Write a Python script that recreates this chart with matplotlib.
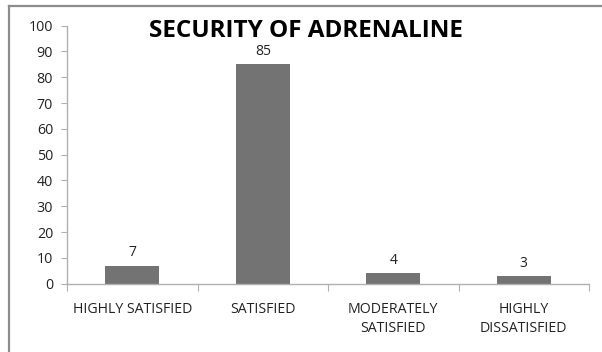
import matplotlib
matplotlib.use("Agg")
import matplotlib.pyplot as plt
from matplotlib.lines import Line2D

categories = ["HIGHLY SATISFIED", "SATISFIED", "MODERATELY\nSATISFIED", "HIGHLY\nDISSATISFIED"]
values = [7, 85, 4, 3]
yticks = [0, 10, 20, 30, 40, 50, 60, 70, 80, 90, 100]
title = "SECURITY OF ADRENALINE"

W, H = 602, 352
fig = plt.figure(figsize=(W / 100, H / 100), dpi=100)
fig.patch.set_facecolor("white")

# chart frame (top and left edges)
fig.add_artist(Line2D([9 / W, 9 / W], [0, 1 - 6 / H], color="#8c8c8c", lw=1.6, transform=fig.transFigure))
fig.add_artist(Line2D([9 / W, 1], [1 - 6 / H, 1 - 6 / H], color="#8c8c8c", lw=1.6, transform=fig.transFigure))

ax = fig.add_axes([67 / W, 1 - 283.6 / H, (589 - 67) / W, (283.6 - 25.7) / H])
x = list(range(len(categories)))
ax.bar(x, values, width=0.41, color="#737373", zorder=2)
ax.set_xlim(-0.5, len(categories) - 0.5)
ax.set_ylim(0, 100)

font = "Open Sans"
for xi, v in zip(x, values):
    ax.text(xi, v + 2, str(v), ha="center", va="bottom", fontsize=10, family=font, color="#222222")

ax.set_yticks(yticks)
ax.set_yticklabels([str(t) for t in yticks], family=font, fontsize=10.3, color="#222222")
ax.set_xticks([i - 0.5 for i in range(len(categories) + 1)], minor=False)
ax.set_xticklabels([""] * (len(categories) + 1))
ax.set_xticks(x, minor=True)
ax.set_xticklabels(categories, minor=True, family=font, fontsize=10.2, color="#222222", linespacing=1.35)
ax.tick_params(axis="x", which="minor", length=0, pad=13)
ax.tick_params(axis="x", which="major", length=5, color="#b0b0b0", direction="out")
ax.tick_params(axis="y", length=4, color="#b0b0b0", pad=6)

for s in ["top", "right"]:
    ax.spines[s].set_visible(False)
for s in ["left", "bottom"]:
    ax.spines[s].set_color("#b0b0b0")
    ax.spines[s].set_linewidth(1.0)

fig.text(306 / W, 1 - 37 / H, title, ha="center", va="baseline", fontsize=17.5, fontweight="bold", family=font, color="black")

fig.savefig("out.png", dpi=100)
